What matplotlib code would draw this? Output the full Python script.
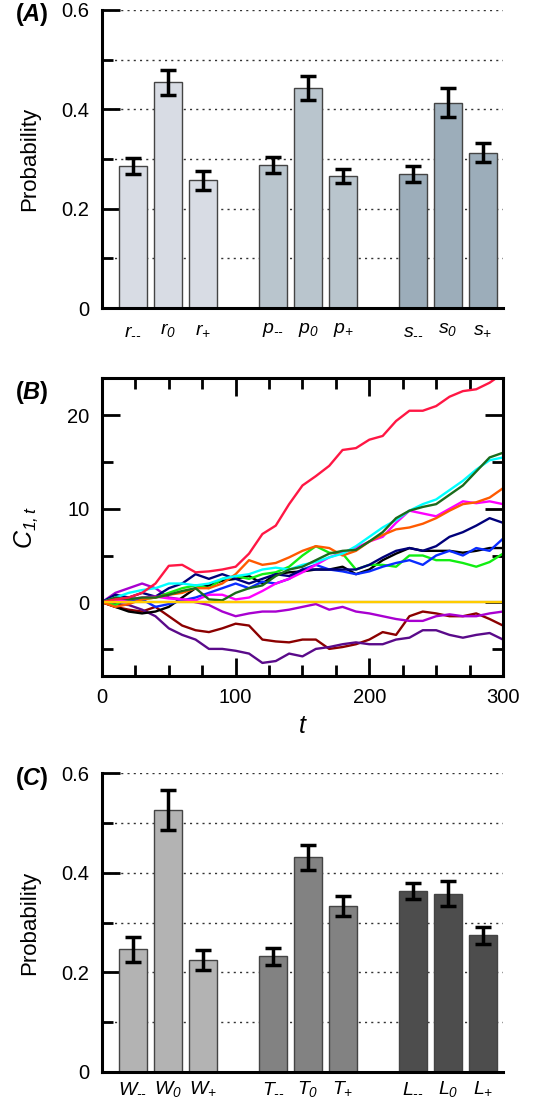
import numpy as np
import matplotlib.pyplot as plt
from matplotlib.ticker import MultipleLocator

plt.rcParams['font.family'] = ['Liberation Sans', 'DejaVu Sans']
plt.rcParams['mathtext.fontset'] = 'custom'
plt.rcParams['mathtext.rm'] = 'Liberation Sans:italic'
plt.rcParams['mathtext.it'] = 'Liberation Sans:italic'
plt.rcParams['mathtext.bf'] = 'Liberation Sans:bold'
plt.rcParams['mathtext.bfit'] = 'Liberation Sans:italic:bold'

# panel A: strategy probabilities
labels_a = [r'$r_{\text{--}}$', r'$r_{0}$', r'$r_{+}$',
            r'$p_{\text{--}}$', r'$p_{0}$', r'$p_{+}$',
            r'$s_{\text{--}}$', r'$s_{0}$', r'$s_{+}$']
prob_a = [0.286, 0.454, 0.257, 0.288, 0.443, 0.266, 0.270, 0.413, 0.313]
err_a = [0.016, 0.025, 0.019, 0.016, 0.025, 0.014, 0.016, 0.029, 0.019]
colors_a = ['#d8dce4'] * 3 + ['#b9c5cd'] * 3 + ['#9cadba'] * 3

# panel C
labels_c = [r'$W_{\text{--}}$', r'$W_{0}$', r'$W_{+}$',
            r'$T_{\text{--}}$', r'$T_{0}$', r'$T_{+}$',
            r'$L_{\text{--}}$', r'$L_{0}$', r'$L_{+}$']
prob_c = [0.246, 0.526, 0.224, 0.232, 0.431, 0.333, 0.363, 0.358, 0.274]
err_c = [0.025, 0.040, 0.020, 0.017, 0.025, 0.020, 0.016, 0.025, 0.017]
colors_c = ['#b3b3b3'] * 3 + ['#828282'] * 3 + ['#4d4d4d'] * 3

bar_pos = [0, 1, 2, 4, 5, 6, 8, 9, 10]
prob_ticks = [0, 0.2, 0.4, 0.6]
prob_ticklabels = ['0', '0.2', '0.4', '0.6']

# panel B: cumulative C_{1,t}, read every 10 steps
t = list(range(0, 301, 10))
c_red = [0, 0.3, 0.5, 1.0, 2.0, 3.9, 4.0, 3.2, 3.3, 3.5, 3.8, 5.2, 7.3, 8.2, 10.5, 12.5,
         13.5, 14.6, 16.3, 16.5, 17.4, 17.8, 19.4, 20.5, 20.5, 21.0, 22.0, 22.6, 22.8, 23.5, 24.5]
c_dgreen = [0, 0.5, 0.3, 0.5, 0.5, 0.8, 1.2, 1.5, 0.3, 0.2, 1.0, 1.5, 1.8, 2.8, 3.5, 3.8,
            4.5, 5.2, 5.5, 5.6, 6.5, 7.5, 9.0, 9.8, 10.2, 10.5, 11.5, 12.5, 14.0, 15.5, 16.0]
c_cyan = [0, 0.5, 1.0, 1.3, 1.5, 2.0, 2.0, 1.8, 2.0, 2.5, 2.8, 3.0, 3.5, 3.7, 3.5, 4.0,
          4.3, 4.8, 5.2, 6.0, 7.0, 8.0, 8.8, 9.8, 10.5, 11.0, 12.0, 13.0, 14.2, 15.2, 15.5]
c_orange = [0, -0.5, -0.2, 0.3, 0.5, 0.8, 1.0, 1.5, 1.5, 2.0, 3.0, 4.5, 4.0, 4.2, 4.8, 5.5,
            6.0, 5.8, 5.0, 5.5, 6.5, 7.2, 7.8, 8.0, 8.4, 9.0, 9.8, 10.5, 10.7, 11.2, 12.2]
c_magenta = [0, 0.2, 0.3, 0.5, 0.6, 0.4, 0.3, 0.2, 0.8, 0.8, 0.3, 0.5, 1.2, 2.0, 2.5, 3.2,
             4.0, 4.8, 5.3, 5.8, 6.5, 7.0, 8.5, 9.8, 9.5, 9.2, 10.0, 10.8, 10.6, 10.8, 10.5]
c_navy = [0, 0.8, 0.5, 1.0, 0.6, 1.5, 2.0, 3.0, 2.5, 3.0, 2.5, 2.0, 2.5, 3.0, 2.8, 3.5,
          3.5, 3.5, 3.5, 3.5, 4.0, 4.8, 5.5, 5.8, 5.5, 6.0, 7.0, 7.5, 8.2, 9.0, 8.5]
c_blue = [0, 0.3, 0.2, 0.3, -0.5, -0.2, 0.2, 0.5, 1.0, 1.5, 2.0, 1.5, 2.2, 2.0, 2.5, 3.5,
          4.0, 3.5, 3.3, 3.0, 3.3, 3.8, 4.2, 4.5, 4.0, 5.0, 5.5, 5.0, 5.8, 5.5, 6.8]
c_black = [0, -0.5, -1.0, -1.2, -1.0, -0.5, 0.5, 1.5, 1.8, 2.3, 2.5, 2.8, 2.0, 3.0, 3.2, 3.3,
           3.5, 3.5, 3.8, 3.0, 3.5, 4.5, 5.2, 5.8, 5.5, 5.5, 5.5, 5.3, 5.5, 5.8, 5.8]
c_lime = [0, -0.3, 0.5, 0.3, 0.5, 1.0, 1.5, 1.8, 1.5, 2.5, 2.8, 2.5, 3.0, 3.2, 3.8, 5.0,
          6.0, 5.3, 5.2, 3.5, 4.0, 4.0, 3.8, 5.0, 5.0, 4.5, 4.5, 4.2, 3.8, 4.3, 5.2]
c_violet = [0, 1.0, 1.5, 2.0, 1.5, 0.5, 0.3, 0.0, -0.3, -1.0, -1.5, -1.2, -1.0, -1.0, -0.8, -0.5,
            -0.2, -0.8, -0.5, -1.0, -1.2, -1.5, -1.8, -2.0, -2.0, -1.5, -1.3, -1.5, -1.5, -1.2, -1.0]
c_maroon = [0, -0.5, -0.8, -1.0, -0.5, -1.5, -2.5, -3.0, -3.2, -2.8, -2.3, -2.5, -4.0, -4.2, -4.3, -4.0,
            -4.0, -5.0, -4.8, -4.5, -4.0, -3.2, -3.5, -1.5, -1.0, -1.2, -1.5, -1.5, -1.2, -1.8, -2.5]
c_purple = [0, -0.2, -0.3, -0.8, -1.5, -2.8, -3.5, -4.0, -5.0, -5.0, -5.2, -5.5, -6.5, -6.3, -5.5, -5.8,
            -5.0, -4.8, -4.5, -4.3, -4.5, -4.5, -4.0, -3.8, -3.0, -3.0, -3.5, -3.8, -3.5, -3.3, -4.0]
c_flat = [0] * len(t)

series_b = [c_flat, c_maroon, c_purple, c_violet, c_black, c_lime, c_blue, c_navy,
            c_magenta, c_orange, c_cyan, c_dgreen, c_red, c_flat]
colors_b = ['#b0b0b0', '#8b0000', '#5a0a8a', '#a800d0', '#000000', '#11ee11', '#0a2cff', '#00007a',
            '#ff00ff', '#ff5a00', '#00ffff', '#1b6b1b', '#ff1744', '#ffcc00']

fig = plt.figure(figsize=(5.54, 11.08), dpi=100)


def panel_tag(y, tag):
    fig.text(0.058, y, '(' + r'$\mathbfit{' + tag + r'}$' + ')', fontsize=17,
             fontweight='bold', ha='center', va='center')


def bar_panel(rect, probs, errs, cols, labels, tag, tag_y, lab_pad):
    ax = fig.add_axes(rect)
    ax.bar(bar_pos, probs, width=0.8, color=cols, edgecolor='#444444', linewidth=1, zorder=2)
    ax.errorbar(bar_pos, probs, yerr=errs, fmt='none', ecolor='black', elinewidth=2.5,
                capsize=6, capthick=2.5, zorder=3)
    ax.set_xlim(-0.886, 10.57)
    ax.set_ylim(0, 0.6)
    ax.set_xticks(bar_pos)
    ax.set_xticklabels(labels, fontsize=14)
    ax.tick_params(axis='x', length=0, pad=lab_pad)
    ax.set_yticks(prob_ticks)
    ax.set_yticklabels(prob_ticklabels)
    ax.yaxis.set_minor_locator(MultipleLocator(0.1))
    ax.tick_params(axis='y', which='major', direction='in', length=13, width=2, labelsize=14.5, pad=9)
    ax.tick_params(axis='y', which='minor', direction='in', length=8, width=2)
    ax.grid(True, axis='y', which='both', linestyle=(0, (1.5, 3)), color='#333333', linewidth=1)
    ax.set_axisbelow(True)
    for s in ['top', 'right']:
        ax.spines[s].set_visible(False)
    for s in ['left', 'bottom']:
        ax.spines[s].set_linewidth(2.2)
    ax.set_ylabel('Probability', fontsize=16)
    ax.yaxis.set_label_coords(-0.155, 0.5)
    panel_tag(tag_y, tag)
    return ax


bar_panel([0.1841, 0.722, 0.7238, 0.269], prob_a, err_a, colors_a, labels_a, 'A', 0.9865, 9)
bar_panel([0.1841, 0.0325, 0.7238, 0.2698], prob_c, err_c, colors_c, labels_c, 'C', 0.297, 5)

# panel B
axb = fig.add_axes([0.1841, 0.3899, 0.7238, 0.2689])
for ys, c in zip(series_b, colors_b):
    axb.plot(t, ys, color=c, linewidth=1.7)
axb.set_xlim(0, 300)
axb.set_ylim(-7.9, 24)
axb.xaxis.set_major_locator(MultipleLocator(100))
axb.xaxis.set_minor_locator(MultipleLocator(25))
axb.yaxis.set_major_locator(MultipleLocator(10))
axb.yaxis.set_minor_locator(MultipleLocator(5))
axb.tick_params(which='both', direction='in', top=True, right=True, width=2, labelsize=14.5)
axb.tick_params(which='major', length=13, pad=9)
axb.tick_params(which='minor', length=8)
for s in axb.spines.values():
    s.set_linewidth(2.2)
axb.set_xlabel(r'$t$', fontsize=18, labelpad=5)
axb.set_ylabel(r'$C_{1,t}$', fontsize=18)
axb.yaxis.set_label_coords(-0.155, 0.5)
panel_tag(0.646, 'B')

fig.savefig('out.png', dpi=100)
